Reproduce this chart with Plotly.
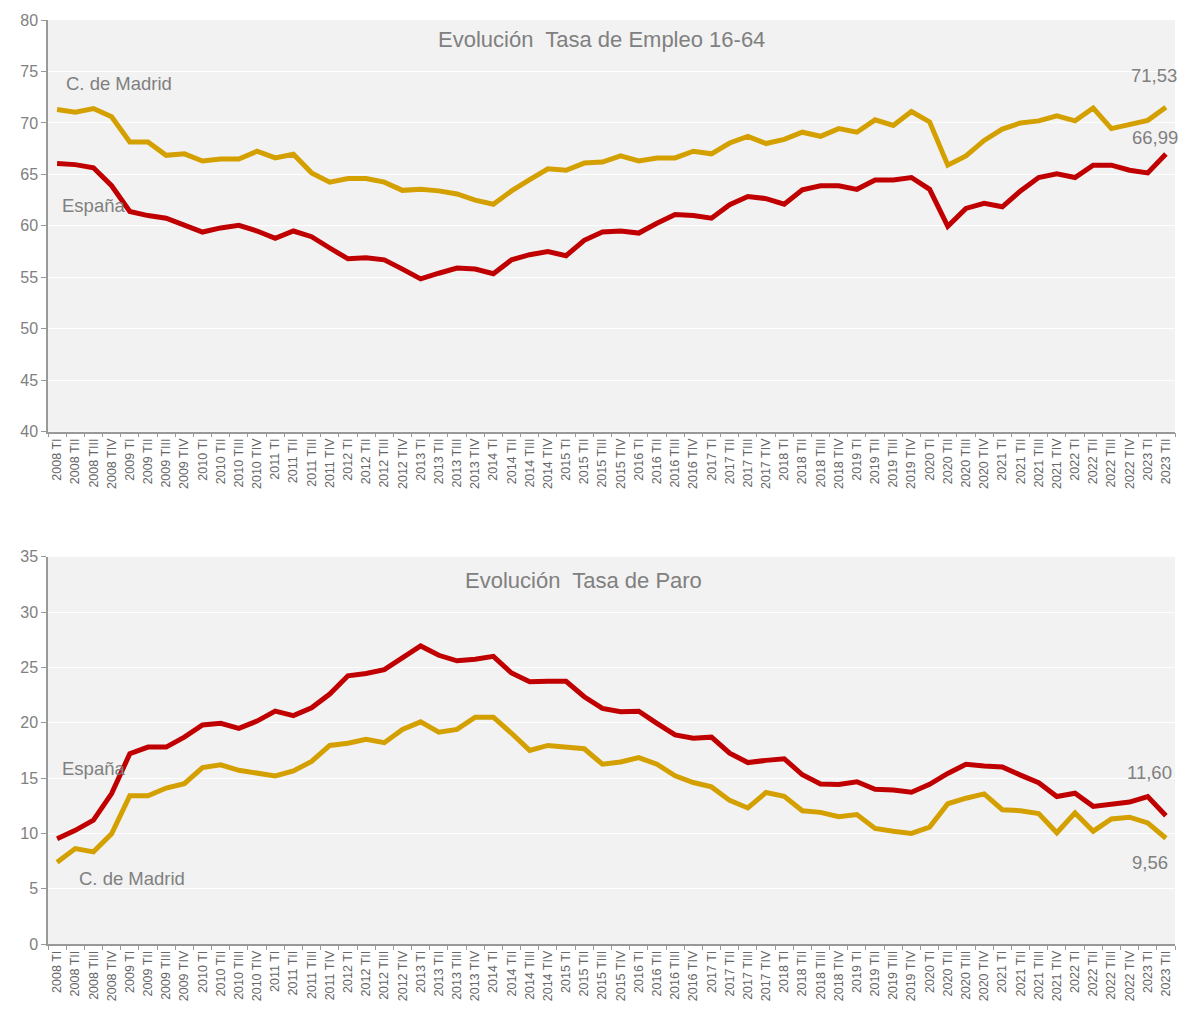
import plotly.graph_objects as go

# trimestres 2008 TI .. 2023 TII
years = list(range(2008, 2024))
quarter_names = ["TI", "TII", "TIII", "TIV"]
quarters = [str(y) + " " + q for y in years for q in quarter_names][:62]

# Tasa de empleo 16-64
empleo_madrid = [71.3, 71.05, 71.4, 70.6, 68.15, 68.15, 66.85, 67.0, 66.3, 66.5,
                 66.5, 67.25, 66.6, 66.95, 65.15, 64.25, 64.6, 64.6, 64.25, 63.45,
                 63.55, 63.4, 63.1, 62.5, 62.1, 63.4, 64.5, 65.55, 65.4, 66.1,
                 66.2, 66.8, 66.3, 66.6, 66.6, 67.25, 67.0, 68.05, 68.7, 68.0,
                 68.4, 69.1, 68.7, 69.45, 69.1, 70.3, 69.75, 71.1, 70.1, 65.9,
                 66.8, 68.3, 69.4, 70.0, 70.2, 70.7, 70.2, 71.45, 69.45, 69.85,
                 70.25, 71.53]
empleo_espana = [66.05, 65.95, 65.65, 63.9, 61.4, 61.0, 60.75, 60.1, 59.4, 59.8,
                 60.05, 59.5, 58.8, 59.5, 58.95, 57.85, 56.8, 56.9, 56.7, 55.8,
                 54.85, 55.4, 55.9, 55.8, 55.35, 56.7, 57.2, 57.5, 57.1, 58.6,
                 59.4, 59.5, 59.3, 60.25, 61.1, 61.0, 60.75, 62.05, 62.85, 62.65,
                 62.1, 63.5, 63.9, 63.9, 63.55, 64.45, 64.45, 64.7, 63.55, 59.95,
                 61.7, 62.2, 61.85, 63.4, 64.7, 65.05, 64.7, 65.9, 65.9, 65.4,
                 65.15, 66.99]

# Tasa de paro
paro_espana = [9.52, 10.27, 11.2, 13.6, 17.2, 17.8, 17.8, 18.7, 19.8, 19.95,
               19.5, 20.15, 21.05, 20.65, 21.35, 22.6, 24.25, 24.45, 24.8, 25.85,
               26.94, 26.1, 25.6, 25.75, 26.0, 24.5, 23.7, 23.75, 23.75, 22.35,
               21.3, 21.0, 21.05, 19.95, 18.9, 18.6, 18.7, 17.25, 16.4, 16.6,
               16.75, 15.3, 14.46, 14.43, 14.67, 13.99, 13.93, 13.72, 14.43, 15.42,
               16.25, 16.1, 16.0, 15.27, 14.58, 13.33, 13.63, 12.44, 12.59, 12.83,
               13.33, 11.60]
paro_madrid = [7.4, 8.63, 8.33, 9.97, 13.4, 13.4, 14.1, 14.5, 15.95, 16.2,
               15.7, 15.5, 15.2, 15.65, 16.5, 17.95, 18.15, 18.5, 18.2, 19.4,
               20.08, 19.15, 19.4, 20.5, 20.5, 19.05, 17.5, 17.95, 17.75, 17.65,
               16.25, 16.45, 16.85, 16.25, 15.2, 14.6, 14.2, 12.98, 12.3, 13.7,
               13.35, 12.05, 11.9, 11.5, 11.7, 10.45, 10.2, 10.0, 10.57, 12.68,
               13.18, 13.57, 12.14, 12.05, 11.8, 10.06, 11.85, 10.2, 11.3, 11.46,
               10.95, 9.56]

ORO = "#d4a000"
ROJO = "#c00000"
GRIS = "#808080"
FONT = "Liberation Sans, Arial, sans-serif"


def fmt(v):
    return ("%.2f" % v).replace(".", ",")


def label(text, xref, yref, x, y, xanchor="left", xshift=0, yshift=0, size=18.5):
    return dict(text=text, xref=xref, yref=yref, x=x, y=y, xanchor=xanchor,
                xshift=xshift, yshift=yshift, showarrow=False,
                font=dict(size=size, color=GRIS, family=FONT))


fig = go.Figure()

fig.add_trace(go.Scatter(x=quarters, y=empleo_madrid, mode="lines", name="C. de Madrid",
                         line=dict(color=ORO, width=5), xaxis="x", yaxis="y"))
fig.add_trace(go.Scatter(x=quarters, y=empleo_espana, mode="lines", name="España",
                         line=dict(color=ROJO, width=5), xaxis="x", yaxis="y"))
fig.add_trace(go.Scatter(x=quarters, y=paro_espana, mode="lines", name="España",
                         line=dict(color=ROJO, width=5), xaxis="x2", yaxis="y2"))
fig.add_trace(go.Scatter(x=quarters, y=paro_madrid, mode="lines", name="C. de Madrid",
                         line=dict(color=ORO, width=5), xaxis="x2", yaxis="y2"))

xaxis_style = dict(
    type="category", range=[-0.5, 61.5], tickangle=-90,
    tickfont=dict(size=12.5, color="#666666", family=FONT),
    showgrid=False, showline=True, linecolor="#999999", linewidth=1.5,
    ticks="outside", ticklen=4, tickcolor="#999999", tickson="boundaries",
    zeroline=False, fixedrange=True,
)
yaxis_style = dict(
    tickfont=dict(size=16, color=GRIS, family=FONT),
    showgrid=True, gridcolor="white", gridwidth=1.2,
    showline=True, linecolor="#999999", linewidth=1.5,
    ticks="outside", ticklen=5, tickcolor="#999999", zeroline=False,
)

annots = [
    # titulos
    dict(text="Evolución  Tasa de Empleo 16-64", xref="paper", yref="paper",
         x=0.491, y=1.0, yshift=-5, xanchor="center", yanchor="top", showarrow=False,
         font=dict(size=22, color=GRIS, family=FONT)),
    dict(text="Evolución  Tasa de Paro", xref="paper", yref="paper",
         x=0.475, y=0.419, yshift=-9, xanchor="center", yanchor="top", showarrow=False,
         font=dict(size=22, color=GRIS, family=FONT)),
    # etiquetas de serie
    label("C. de Madrid", "x", "y", 0.4, 73.8),
    label("España", "x", "y", 0.15, 62.0),
    label("España", "x2", "y2", 0.15, 15.85),
    label("C. de Madrid", "x2", "y2", 1.1, 5.9),
    # ultimos valores
    label(fmt(empleo_madrid[-1]), "x", "y", quarters[-1], empleo_madrid[-1],
          xanchor="right", xshift=13, yshift=32),
    label(fmt(empleo_espana[-1]), "x", "y", quarters[-1], empleo_espana[-1],
          xanchor="right", xshift=14, yshift=16),
    label(fmt(paro_espana[-1]), "x2", "y2", quarters[-1], paro_espana[-1],
          xanchor="right", xshift=8, yshift=43),
    label(fmt(paro_madrid[-1]), "x2", "y2", quarters[-1], paro_madrid[-1],
          xanchor="right", xshift=4, yshift=-24),
]

# la pagina tiene 8px de margen en el body: 1171x997 + 16 = 1187x1013
fig.update_layout(
    width=1171, height=997,
    margin=dict(l=40, r=4, t=10, b=49),
    paper_bgcolor="white", plot_bgcolor="#f2f2f2",
    showlegend=False,
    font=dict(family=FONT, color=GRIS),
    xaxis=dict(xaxis_style, anchor="y"),
    yaxis=dict(yaxis_style, domain=[0.5544, 1.0], range=[40, 80], dtick=5, anchor="x"),
    xaxis2=dict(xaxis_style, anchor="y2"),
    yaxis2=dict(yaxis_style, domain=[0.0, 0.419], range=[0, 35], dtick=5, anchor="x2"),
    annotations=annots,
)

fig.write_html("out.html")
